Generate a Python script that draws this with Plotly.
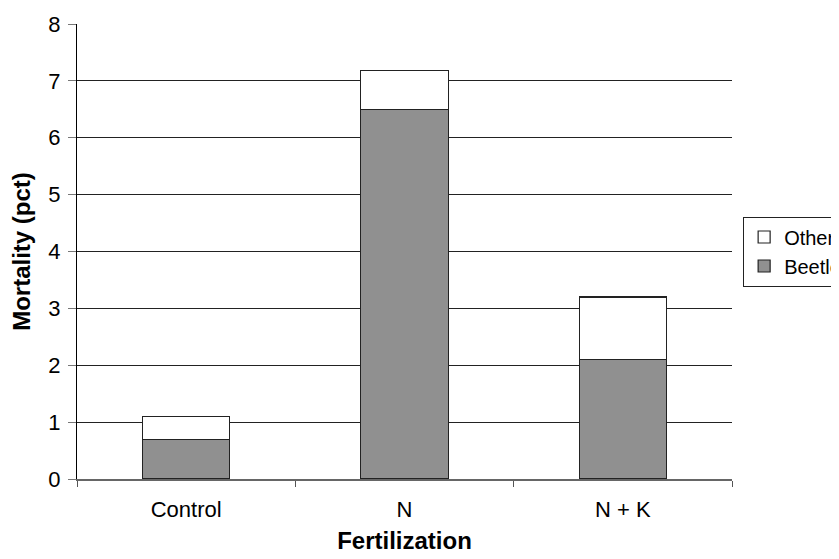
import plotly.graph_objects as go

categories = ["Control", "N", "N + K"]
beetles = [0.7, 6.5, 2.1]
other = [0.4, 0.68, 1.1]
y_ticks = [0, 1, 2, 3, 4, 5, 6, 7, 8]

FONT = "Liberation Sans, Arial, sans-serif"

fig = go.Figure()
fig.add_trace(go.Bar(
    x=categories, y=beetles, name="Beetles", width=0.4,
    marker=dict(color="#909090", line=dict(color="#222222", width=1.2)),
))
fig.add_trace(go.Bar(
    x=categories, y=other, name="Other", width=0.4,
    marker=dict(color="#ffffff", line=dict(color="#222222", width=1.2)),
))

fig.update_layout(
    width=839, height=559,
    barmode="stack",
    plot_bgcolor="white", paper_bgcolor="white",
    margin=dict(l=69, r=115, t=16, b=88, autoexpand=False),
    font=dict(family=FONT, size=20, color="black"),
    legend=dict(
        x=1.017, y=0.5, xanchor="left", yanchor="middle",
        traceorder="reversed",
        bordercolor="#222222", borderwidth=1,
        font=dict(size=20),
        tracegroupgap=0,
    ),
    showlegend=True,
)

fig.update_yaxes(
    range=[0, 8], tickvals=y_ticks,
    showgrid=True, gridcolor="#222222", gridwidth=1,
    showline=True, linecolor="black", linewidth=1.2,
    ticks="outside", ticklen=8, tickcolor="#777777",
    tickfont=dict(size=22), ticklabelstandoff=3,
    zeroline=False,
    title=dict(text="<b>Mortality (pct)</b>", font=dict(size=24), standoff=12),
)
fig.update_xaxes(
    showline=True, linecolor="#666666", linewidth=1.5,
    ticks="outside", ticklen=6, tickcolor="#555555",
    tickson="boundaries",
    tickfont=dict(size=22), ticklabelstandoff=10,
    title=dict(text="<b>Fertilization</b>", font=dict(size=24), standoff=11),
)

fig.write_html("out.html")
